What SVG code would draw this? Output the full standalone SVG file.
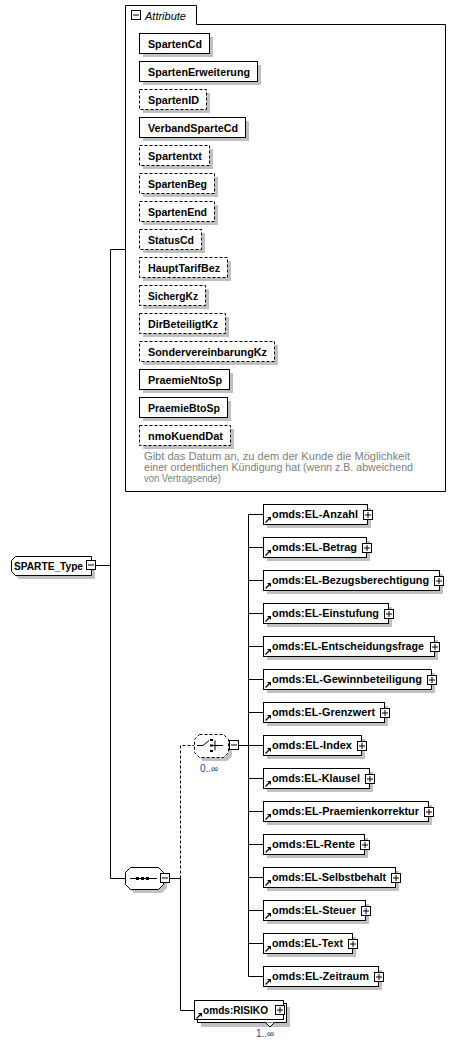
<svg xmlns="http://www.w3.org/2000/svg" xmlns:xlink="http://www.w3.org/1999/xlink" width="453" height="1044" viewBox="0 0 453 1044">
<style>
.box{fill:#fff;stroke:#000;stroke-width:1}
.opt{stroke-dasharray:3,2}
.sh{fill:#c0c0c0}
.lbl{font-family:"Liberation Sans",Arial,sans-serif;font-weight:bold;font-size:11px;fill:#000}
.ln{fill:none;stroke:#000;stroke-width:1}
.dash{stroke-dasharray:3,2}
.desc{font-family:"Liberation Sans",Arial,sans-serif;font-size:10.5px;fill:#808080}
.mult{font-family:"Liberation Sans",Arial,sans-serif;font-size:10px;fill:#1f3f8f}
.ttl{font-family:"Liberation Sans",Arial,sans-serif;font-style:italic;font-size:11px;fill:#000}
</style>
<defs>
<g id="plusI"><rect x="0.5" y="0.5" width="9" height="9" fill="#fff" stroke="#000"/><path d="M2,5H8M5,2V8" stroke="#000" fill="none"/></g>
<g id="minusI"><rect x="0.5" y="0.5" width="9" height="9" fill="#fff" stroke="#000"/><path d="M2,5H8" stroke="#000" fill="none"/></g>
<g id="arr"><path d="M0.5,6.5 L4,3" stroke="#000" stroke-width="1.2" fill="none"/><path d="M2,1 H6 V5 Z" fill="#000"/></g>
</defs>

<g id="connectors">
<path class="ln" d="M96,565.5H110.5M110.5,249.5V878.5M110.5,249.5H125.5M110.5,878.5H125.5"/>
<path class="ln" d="M169,878.5H180.5M180.5,878.5V1010.5H194"/>
<path class="ln dash" d="M180.5,878.5V745.5H194"/>
<path class="ln" d="M239,745.5H248.5M248.5,514.5V976.5"/>
<path class="ln" d="M248.5,514.5H263M248.5,547.5H263M248.5,580.5H263M248.5,613.5H263M248.5,646.5H263M248.5,679.5H263M248.5,712.5H263M248.5,745.5H263M248.5,778.5H263M248.5,811.5H263M248.5,844.5H263M248.5,877.5H263M248.5,910.5H263M248.5,943.5H263M248.5,976.5H263"/>
</g>

<g id="SPARTE_Type">
<path class="sh" d="M19,560H95V579H19L15,575V564Z"/>
<path class="box" d="M15.5,556.5H91.5V575.5H15.5L11.5,571.5V560.5Z"/>
<text class="lbl" x="14" y="570" textLength="69" lengthAdjust="spacingAndGlyphs">SPARTE_Type</text>
<use xlink:href="#minusI" x="86" y="560"/>
</g>

<g id="Attribute">
<path class="ln" d="M125.5,491.5V5.5H196.5V24.5H445.5V491.5Z"/>
<use xlink:href="#minusI" x="131" y="10"/>
<text class="ttl" x="145" y="20">Attribute</text>
</g>

<g id="attr-SpartenCd"><rect class="sh" x="143" y="37" width="70" height="20"/><rect class="box" x="139.5" y="33.5" width="70" height="20"/><text class="lbl" x="148" y="48" textLength="54" lengthAdjust="spacingAndGlyphs">SpartenCd</text></g>
<g id="attr-SpartenErweiterung"><rect class="sh" x="143" y="65" width="118" height="20"/><rect class="box" x="139.5" y="61.5" width="118" height="20"/><text class="lbl" x="148" y="76" textLength="102" lengthAdjust="spacingAndGlyphs">SpartenErweiterung</text></g>
<g id="attr-SpartenID"><rect class="sh" x="143" y="93" width="67" height="20"/><rect class="box opt" x="139.5" y="89.5" width="67" height="20"/><text class="lbl" x="148" y="104" textLength="51" lengthAdjust="spacingAndGlyphs">SpartenID</text></g>
<g id="attr-VerbandSparteCd"><rect class="sh" x="143" y="121" width="106" height="20"/><rect class="box" x="139.5" y="117.5" width="106" height="20"/><text class="lbl" x="148" y="132" textLength="90" lengthAdjust="spacingAndGlyphs">VerbandSparteCd</text></g>
<g id="attr-Spartentxt"><rect class="sh" x="143" y="149" width="70" height="20"/><rect class="box opt" x="139.5" y="145.5" width="70" height="20"/><text class="lbl" x="148" y="160" textLength="54" lengthAdjust="spacingAndGlyphs">Spartentxt</text></g>
<g id="attr-SpartenBeg"><rect class="sh" x="143" y="177" width="75" height="20"/><rect class="box opt" x="139.5" y="173.5" width="75" height="20"/><text class="lbl" x="148" y="188" textLength="59" lengthAdjust="spacingAndGlyphs">SpartenBeg</text></g>
<g id="attr-SpartenEnd"><rect class="sh" x="143" y="205" width="75" height="20"/><rect class="box opt" x="139.5" y="201.5" width="75" height="20"/><text class="lbl" x="148" y="216" textLength="59" lengthAdjust="spacingAndGlyphs">SpartenEnd</text></g>
<g id="attr-StatusCd"><rect class="sh" x="143" y="233" width="62" height="20"/><rect class="box opt" x="139.5" y="229.5" width="62" height="20"/><text class="lbl" x="148" y="244" textLength="46" lengthAdjust="spacingAndGlyphs">StatusCd</text></g>
<g id="attr-HauptTarifBez"><rect class="sh" x="143" y="261" width="88" height="20"/><rect class="box opt" x="139.5" y="257.5" width="88" height="20"/><text class="lbl" x="148" y="272" textLength="72" lengthAdjust="spacingAndGlyphs">HauptTarifBez</text></g>
<g id="attr-SichergKz"><rect class="sh" x="143" y="289" width="66" height="20"/><rect class="box opt" x="139.5" y="285.5" width="66" height="20"/><text class="lbl" x="148" y="300" textLength="50" lengthAdjust="spacingAndGlyphs">SichergKz</text></g>
<g id="attr-DirBeteiligtKz"><rect class="sh" x="143" y="317" width="86" height="20"/><rect class="box opt" x="139.5" y="313.5" width="86" height="20"/><text class="lbl" x="148" y="328" textLength="70" lengthAdjust="spacingAndGlyphs">DirBeteiligtKz</text></g>
<g id="attr-SondervereinbarungKz"><rect class="sh" x="143" y="345" width="135" height="20"/><rect class="box opt" x="139.5" y="341.5" width="135" height="20"/><text class="lbl" x="148" y="356" textLength="119" lengthAdjust="spacingAndGlyphs">SondervereinbarungKz</text></g>
<g id="attr-PraemieNtoSp"><rect class="sh" x="143" y="373" width="90" height="20"/><rect class="box" x="139.5" y="369.5" width="90" height="20"/><text class="lbl" x="148" y="384" textLength="74" lengthAdjust="spacingAndGlyphs">PraemieNtoSp</text></g>
<g id="attr-PraemieBtoSp"><rect class="sh" x="143" y="401" width="88" height="20"/><rect class="box" x="139.5" y="397.5" width="88" height="20"/><text class="lbl" x="148" y="412" textLength="72" lengthAdjust="spacingAndGlyphs">PraemieBtoSp</text></g>
<g id="attr-nmoKuendDat"><rect class="sh" x="143" y="429" width="91" height="20"/><rect class="box opt" x="139.5" y="425.5" width="91" height="20"/><text class="lbl" x="148" y="440" textLength="75" lengthAdjust="spacingAndGlyphs">nmoKuendDat</text>
<text class="desc" x="144" y="460" textLength="266" lengthAdjust="spacingAndGlyphs">Gibt das Datum an, zu dem der Kunde die Möglichkeit</text>
<text class="desc" x="144" y="471" textLength="269" lengthAdjust="spacingAndGlyphs">einer ordentlichen Kündigung hat (wenn z.B. abweichend</text>
<text class="desc" x="144" y="482" textLength="77" lengthAdjust="spacingAndGlyphs">von Vertragsende)</text>
</g>

<g id="sequence">
<path class="sh" d="M134,871H162L167,876V888L162,893H134L129,888V876Z"/>
<path class="box" d="M130.5,867.5H158.5L163.5,872.5V884.5L158.5,889.5H130.5L125.5,884.5V872.5Z"/>
<path class="ln" d="M130,878.5H157"/>
<rect x="136" y="877" width="3" height="3" fill="#000"/>
<rect x="141" y="877" width="3" height="3" fill="#000"/>
<rect x="146" y="877" width="3" height="3" fill="#000"/>
<use xlink:href="#minusI" x="160" y="873"/>
</g>

<g id="choice">
<path class="sh" d="M203,738H227L232,743V756L227,761H203L198,756V743Z"/>
<path class="box opt" d="M199.5,734.5H223.5L228.5,739.5V752.5L223.5,757.5H199.5L194.5,752.5V739.5Z"/>
<path class="ln" d="M197,745.5H203L209,740.5M215,740.5V750.5M212,745.5H223"/>
<rect x="210" y="739" width="3" height="2" fill="#000"/>
<rect x="210" y="744.5" width="3" height="2" fill="#000"/>
<rect x="210" y="750" width="3" height="2" fill="#000"/>
<use xlink:href="#minusI" x="229" y="740"/>
<text class="mult" x="200" y="772">0..∞</text>
</g>

<g id="EL-Anzahl"><rect class="sh" x="267" y="508" width="104" height="20"/><rect class="box" x="263.5" y="504.5" width="104" height="20"/><use xlink:href="#arr" x="265" y="516"/><text class="lbl" x="272" y="518" textLength="86" lengthAdjust="spacingAndGlyphs">omds:EL-Anzahl</text><use xlink:href="#plusI" x="363" y="510"/></g>
<g id="EL-Betrag"><rect class="sh" x="267" y="541" width="103" height="20"/><rect class="box" x="263.5" y="537.5" width="103" height="20"/><use xlink:href="#arr" x="265" y="549"/><text class="lbl" x="272" y="551" textLength="85" lengthAdjust="spacingAndGlyphs">omds:EL-Betrag</text><use xlink:href="#plusI" x="362" y="543"/></g>
<g id="EL-Bezugsberechtigung"><rect class="sh" x="267" y="574" width="176" height="20"/><rect class="box" x="263.5" y="570.5" width="176" height="20"/><use xlink:href="#arr" x="265" y="582"/><text class="lbl" x="272" y="584" textLength="157" lengthAdjust="spacingAndGlyphs">omds:EL-Bezugsberechtigung</text><use xlink:href="#plusI" x="434" y="576"/></g>
<g id="EL-Einstufung"><rect class="sh" x="267" y="607" width="125" height="20"/><rect class="box" x="263.5" y="603.5" width="125" height="20"/><use xlink:href="#arr" x="265" y="615"/><text class="lbl" x="272" y="617" textLength="107" lengthAdjust="spacingAndGlyphs">omds:EL-Einstufung</text><use xlink:href="#plusI" x="384" y="609"/></g>
<g id="EL-Entscheidungsfrage"><rect class="sh" x="267" y="640" width="171" height="20"/><rect class="box" x="263.5" y="636.5" width="171" height="20"/><use xlink:href="#arr" x="265" y="648"/><text class="lbl" x="272" y="650" textLength="152" lengthAdjust="spacingAndGlyphs">omds:EL-Entscheidungsfrage</text><use xlink:href="#plusI" x="430" y="642"/></g>
<g id="EL-Gewinnbeteiligung"><rect class="sh" x="267" y="673" width="168" height="20"/><rect class="box" x="263.5" y="669.5" width="168" height="20"/><use xlink:href="#arr" x="265" y="681"/><text class="lbl" x="272" y="683" textLength="150" lengthAdjust="spacingAndGlyphs">omds:EL-Gewinnbeteiligung</text><use xlink:href="#plusI" x="427" y="675"/></g>
<g id="EL-Grenzwert"><rect class="sh" x="267" y="706" width="121" height="20"/><rect class="box" x="263.5" y="702.5" width="121" height="20"/><use xlink:href="#arr" x="265" y="714"/><text class="lbl" x="272" y="716" textLength="103" lengthAdjust="spacingAndGlyphs">omds:EL-Grenzwert</text><use xlink:href="#plusI" x="380" y="708"/></g>
<g id="EL-Index"><rect class="sh" x="267" y="739" width="98" height="20"/><rect class="box" x="263.5" y="735.5" width="98" height="20"/><use xlink:href="#arr" x="265" y="747"/><text class="lbl" x="272" y="749" textLength="80" lengthAdjust="spacingAndGlyphs">omds:EL-Index</text><use xlink:href="#plusI" x="357" y="741"/></g>
<g id="EL-Klausel"><rect class="sh" x="267" y="772" width="106" height="20"/><rect class="box" x="263.5" y="768.5" width="106" height="20"/><use xlink:href="#arr" x="265" y="780"/><text class="lbl" x="272" y="782" textLength="88" lengthAdjust="spacingAndGlyphs">omds:EL-Klausel</text><use xlink:href="#plusI" x="365" y="774"/></g>
<g id="EL-Praemienkorrektur"><rect class="sh" x="267" y="805" width="165" height="20"/><rect class="box" x="263.5" y="801.5" width="165" height="20"/><use xlink:href="#arr" x="265" y="813"/><text class="lbl" x="272" y="815" textLength="147" lengthAdjust="spacingAndGlyphs">omds:EL-Praemienkorrektur</text><use xlink:href="#plusI" x="424" y="807"/></g>
<g id="EL-Rente"><rect class="sh" x="267" y="838" width="101" height="20"/><rect class="box" x="263.5" y="834.5" width="101" height="20"/><use xlink:href="#arr" x="265" y="846"/><text class="lbl" x="272" y="848" textLength="83" lengthAdjust="spacingAndGlyphs">omds:EL-Rente</text><use xlink:href="#plusI" x="360" y="840"/></g>
<g id="EL-Selbstbehalt"><rect class="sh" x="267" y="871" width="132" height="20"/><rect class="box" x="263.5" y="867.5" width="132" height="20"/><use xlink:href="#arr" x="265" y="879"/><text class="lbl" x="272" y="881" textLength="114" lengthAdjust="spacingAndGlyphs">omds:EL-Selbstbehalt</text><use xlink:href="#plusI" x="391" y="873"/></g>
<g id="EL-Steuer"><rect class="sh" x="267" y="904" width="102" height="20"/><rect class="box" x="263.5" y="900.5" width="102" height="20"/><use xlink:href="#arr" x="265" y="912"/><text class="lbl" x="272" y="914" textLength="84" lengthAdjust="spacingAndGlyphs">omds:EL-Steuer</text><use xlink:href="#plusI" x="361" y="906"/></g>
<g id="EL-Text"><rect class="sh" x="267" y="937" width="89" height="20"/><rect class="box" x="263.5" y="933.5" width="89" height="20"/><use xlink:href="#arr" x="265" y="945"/><text class="lbl" x="272" y="947" textLength="71" lengthAdjust="spacingAndGlyphs">omds:EL-Text</text><use xlink:href="#plusI" x="348" y="939"/></g>
<g id="EL-Zeitraum"><rect class="sh" x="267" y="970" width="115" height="20"/><rect class="box" x="263.5" y="966.5" width="115" height="20"/><use xlink:href="#arr" x="265" y="978"/><text class="lbl" x="272" y="980" textLength="97" lengthAdjust="spacingAndGlyphs">omds:EL-Zeitraum</text><use xlink:href="#plusI" x="374" y="972"/></g>

<g id="RISIKO">
<rect class="sh" x="201" y="1007" width="89" height="20"/>
<rect class="box" x="197.5" y="1003.5" width="89" height="19"/>
<path class="box" d="M265.5,1022.5L270,1027L274.5,1022.5"/>
<rect class="box" x="194.5" y="1000.5" width="89" height="19"/>
<use xlink:href="#arr" x="196" y="1012"/>
<text class="lbl" x="203" y="1014" textLength="65" lengthAdjust="spacingAndGlyphs">omds:RISIKO</text>
<use xlink:href="#plusI" x="275" y="1005"/>
<text class="mult" x="256" y="1037">1..∞</text>
</g>
</svg>
